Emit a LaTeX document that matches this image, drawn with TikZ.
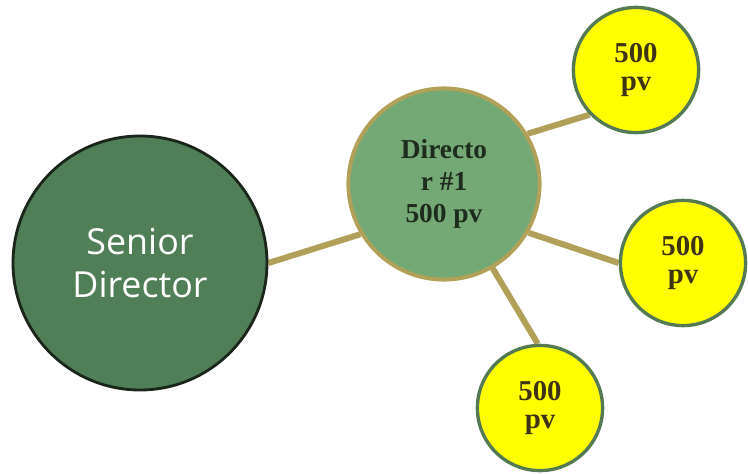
\documentclass[tikz,border=0pt]{standalone}
\usepackage{fontspec}
\usepackage{tikz}
\usetikzlibrary{backgrounds}
\newfontfamily\labelsans{Open Sans}
\newfontfamily\labelserif{Liberation Serif}

\definecolor{seniorgreen}{RGB}{80,126,86}
\definecolor{seniorline}{RGB}{26,38,26}
\definecolor{dirgreen}{RGB}{116,168,117}
\definecolor{khaki}{RGB}{176,160,88}
\definecolor{pvline}{RGB}{84,122,84}
\definecolor{pvyellow}{RGB}{255,255,0}
\definecolor{dirtext}{RGB}{30,44,30}
\definecolor{pvtext}{RGB}{62,52,20}

\tikzset{
  senior/.style={circle, draw=seniorline, line width=2pt, fill=seniorgreen,
    minimum size=6.35cm, align=center, text=white,
    font=\labelsans\fontsize{25.5}{30.5}\selectfont},
  director/.style={circle, draw=khaki, line width=2.8pt, fill=dirgreen,
    minimum size=4.78cm, align=center, text=dirtext,
    font=\labelserif\bfseries\fontsize{19.5}{22.5}\selectfont},
  pv/.style={circle, draw=pvline, line width=2.4pt, fill=pvyellow,
    minimum size=3.13cm, align=center, text=pvtext,
    font=\labelserif\bfseries\fontsize{20.5}{19.5}\selectfont},
  link/.style={khaki, line width=4.3pt}
}

\begin{document}
\begin{tikzpicture}

\useasboundingbox (0,0) rectangle (18.7,11.825);

\node (senior) at (3.5,5.25) [senior] {Senior\\Director};
\node (dir) at (11.1,7.225) [director] {Directo\\r \#1\\500 pv};

\node (pvtop) at (15.9,10.075) [pv] {500\\pv};
\node (pvright) at (17.075,5.25) [pv] {500\\pv};
\node (pvbottom) at (13.5,1.625) [pv] {500\\pv};

\begin{scope}[on background layer]
\draw[link] (senior.east) -- (dir.211);
\draw[link] (dir.31) -- (pvtop.224);
\draw[link] (dir.-30) -- (pvright.180);
\draw[link] (dir.-60) -- (pvbottom.92);
\end{scope}

\end{tikzpicture}
\end{document}
